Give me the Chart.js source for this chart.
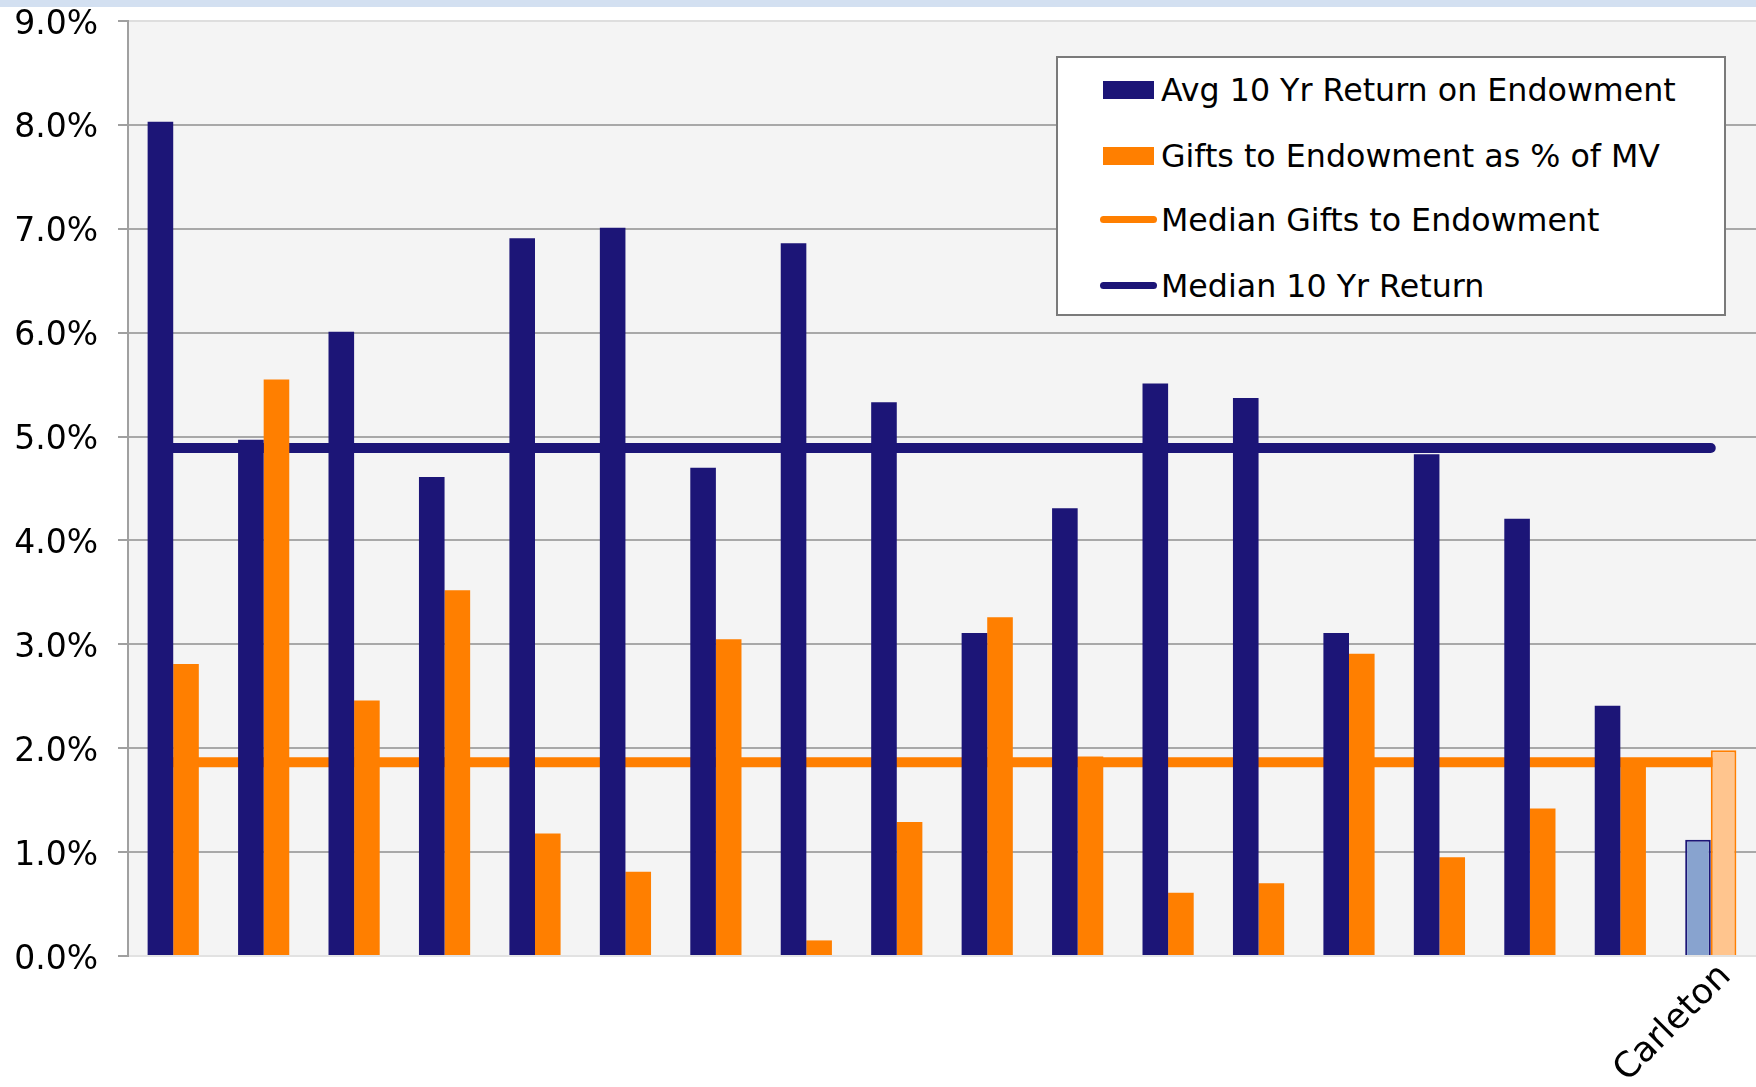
<!DOCTYPE html>
<html>
<head>
<meta charset="utf-8">
<script src="https://cdn.jsdelivr.net/npm/chart.js@4"></script>
<style>
  html, body { margin: 0; padding: 0; background: #ffffff; }
  #wrap { position: relative; width: 1756px; height: 1087px; overflow: hidden; }
  #topStrip { position: absolute; left: 0; top: 0; width: 1756px; height: 7px; background: #d3e0f1; }
  #legend {
    position: absolute; left: 1056px; top: 56px; width: 666px; height: 256px;
    background: #ffffff; border: 2px solid #7a7a7a;
    font-family: "DejaVu Sans", Verdana, sans-serif; font-size: 32px; color: #000;
  }
  .item { position: absolute; left: 0; height: 40px; width: 100%; }
  .sw { position: absolute; }
  .lbl { position: absolute; left: 103px; top: 0; line-height: 40px; white-space: nowrap;
         transform: scaleX(0.99); transform-origin: left center; }
</style>
</head>
<body>
<div id="wrap">
  <canvas id="grafico"></canvas>
  <div id="topStrip"></div>
  <div id="legend"></div>
</div>
<script>
// Categorias (solo se rotula Carleton)
const categorias = ["", "", "", "", "", "", "", "", "", "", "", "", "", "", "", "", "", "Carleton"];

// Valores (%)
const retornoPromedio = [8.03, 4.97, 6.01, 4.61, 6.91, 7.01, 4.70, 6.86, 5.33, 3.11, 4.31, 5.51, 5.37, 3.11, 4.83, 4.21, 2.41, 1.12];
const donacionesPct = [2.81, 5.55, 2.46, 3.52, 1.18, 0.81, 3.05, 0.15, 1.29, 3.26, 1.92, 0.61, 0.70, 2.91, 0.95, 1.42, 1.83, 1.98];
const medianaDonaciones = [1.865, 1.865, 1.865, 1.865, 1.865, 1.865, 1.865, 1.865, 1.865, 1.865, 1.865, 1.865, 1.865, 1.865, 1.865, 1.865, 1.865, 1.865];
const medianaRetorno = [4.89, 4.89, 4.89, 4.89, 4.89, 4.89, 4.89, 4.89, 4.89, 4.89, 4.89, 4.89, 4.89, 4.89, 4.89, 4.89, 4.89, 4.89];

// Ticks del eje Y
const ticksY = [0, 1, 2, 3, 4, 5, 6, 7, 8, 9];

const nombres = ["Avg 10 Yr Return on Endowment", "Gifts to Endowment as % of MV", "Median Gifts to Endowment", "Median 10 Yr Return"];

const AZUL = "#1c1577";
const NARANJA = "#ff7f00";
const AZUL_CLARO = "#88a3cf";
const NARANJA_CLARO = "#ffc58e";

const esCarleton = (i) => categorias[i] === "Carleton";

// Fondo gris del area de grafico
const fondoPlugin = {
    id: "fondo",
    beforeDraw(chart) {
        const { ctx, chartArea } = chart;
        ctx.save();
        ctx.fillStyle = "#f4f4f4";
        ctx.fillRect(chartArea.left, chartArea.top, chartArea.right - chartArea.left, chartArea.bottom - chartArea.top);
        ctx.restore();
    }
};

const ctx = document.getElementById("grafico").getContext("2d");
const chart = new Chart(ctx, {
    type: "bar",
    data: {
        labels: categorias,
        datasets: [
            {
                label: nombres[0],
                data: retornoPromedio,
                backgroundColor: categorias.map((c, i) => esCarleton(i) ? AZUL_CLARO : AZUL),
                borderColor: AZUL,
                borderWidth: categorias.map((c, i) => esCarleton(i) ? 2 : 0),
                categoryPercentage: 0.566,
                barPercentage: 1.0,
                order: 1
            },
            {
                label: nombres[1],
                data: donacionesPct,
                backgroundColor: categorias.map((c, i) => esCarleton(i) ? NARANJA_CLARO : NARANJA),
                borderColor: NARANJA,
                borderWidth: categorias.map((c, i) => esCarleton(i) ? 2 : 0),
                categoryPercentage: 0.566,
                barPercentage: 1.0,
                order: 1
            },
            {
                type: "line",
                label: nombres[2],
                data: medianaDonaciones,
                borderColor: NARANJA,
                backgroundColor: NARANJA,
                borderWidth: 10,
                borderCapStyle: "round",
                pointRadius: 0,
                fill: false,
                order: 2
            },
            {
                type: "line",
                label: nombres[3],
                data: medianaRetorno,
                borderColor: AZUL,
                backgroundColor: AZUL,
                borderWidth: 10,
                borderCapStyle: "round",
                pointRadius: 0,
                fill: false,
                order: 2
            }
        ]
    },
    options: {
        responsive: true,
        maintainAspectRatio: false,
        animation: false,
        layout: { padding: { top: 21, left: 0, right: 0, bottom: 0 } },
        plugins: {
            legend: { display: false },
            tooltip: { enabled: false }
        },
        scales: {
            x: {
                grid: { display: false, drawTicks: false },
                border: { display: true, color: "#e2e2e2", width: 2 },
                ticks: {
                    autoSkip: false,
                    maxRotation: 45,
                    minRotation: 45,
                    padding: 0,
                    labelOffset: 15,
                    color: "#000",
                    font: { family: "DejaVu Sans", size: 35 }
                },
                afterFit(scale) {
                    scale.height = 131;
                    scale.paddingLeft = 0;
                    scale.paddingRight = 0;
                }
            },
            y: {
                min: 0,
                max: 9,
                afterBuildTicks(scale) { scale.ticks = ticksY.map(v => ({ value: v })); },
                grid: {
                    color: (c) => (c.tick && (c.tick.value === 9 || c.tick.value === 0)) ? "#dedede" : "#a8a8a8",
                    tickColor: "#a0a0a0",
                    lineWidth: 2,
                    tickLength: 10
                },
                border: { display: true, color: "#a0a0a0", width: 2 },
                ticks: {
                    padding: 20,
                    labelOffset: 4,
                    color: "#000",
                    font: { family: "DejaVu Sans", size: 33 },
                    callback: (v) => Number(v).toFixed(1) + "%"
                },
                afterFit(scale) {
                    scale.width = 128;
                    scale.paddingTop = 0;
                    scale.paddingBottom = 0;
                }
            }
        }
    },
    plugins: [fondoPlugin]
});

// Leyenda en HTML
const leyenda = document.getElementById("legend");
const filasY = [12, 78, 142, 208];
chart.data.datasets.forEach((ds, i) => {
    const fila = document.createElement("div");
    fila.className = "item";
    fila.style.top = filasY[i] + "px";
    const sw = document.createElement("div");
    sw.className = "sw";
    if (ds.type === "line") {
        sw.style.left = "42px"; sw.style.width = "57px"; sw.style.height = "7px";
        sw.style.top = "16px"; sw.style.borderRadius = "4px";
        sw.style.background = ds.borderColor;
    } else {
        sw.style.left = "45px"; sw.style.width = "51px"; sw.style.height = "18px";
        sw.style.top = "11px";
        sw.style.background = i === 0 ? AZUL : NARANJA;
    }
    const lbl = document.createElement("span");
    lbl.className = "lbl";
    lbl.textContent = ds.label;
    fila.appendChild(sw);
    fila.appendChild(lbl);
    leyenda.appendChild(fila);
});
</script>
</body>
</html>
